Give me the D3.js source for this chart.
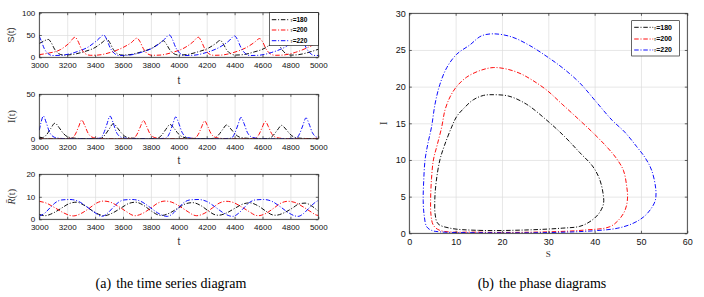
<!DOCTYPE html>
<html><head><meta charset="utf-8">
<script src="https://cdn.jsdelivr.net/npm/d3@7"></script>
<style>body{margin:0;background:#fff}svg{display:block}</style>
</head><body>
<svg id="c" width="704" height="297"></svg>
<script>
// ---------------- DATA ----------------
const TAUS = ["180", "200", "220"];
const T_TICKS = [3000, 3200, 3400, 3600, 3800, 4000, 4200, 4400, 4600, 4800, 5000];
const S_TICKS = [0, 50, 100];
const I_TICKS = [0, 50];
const R_TICKS = [0, 10, 20];
const PS_TICKS = [0, 10, 20, 30, 40, 50, 60];
const PI_TICKS = [0, 5, 10, 15, 20, 25, 30];

// S(t)  [t, value]
const S180 = [[3000,31],[3030,36],[3065,40],[3085,33],[3110,18],[3140,8],[3175,5],[3230,6],[3315,12],[3400,22],[3450,33],[3485,41],[3505,33],[3530,18],[3560,8],[3595,5],[3650,6],[3730,12],[3810,21],[3860,31],[3890,37],[3910,30],[3935,17],[3965,8],[4000,5],[4055,6],[4135,12],[4215,21],[4265,31],[4297,38],[4317,31],[4342,17],[4372,8],[4407,5],[4462,6],[4540,12],[4620,21],[4665,31],[4695,37],[4715,30],[4740,17],[4770,8],[4805,5],[4860,6],[4940,12],[5000,18]];
const S200 = [[3000,6],[3060,9],[3150,17],[3215,32],[3256,45],[3276,37],[3300,20],[3330,8],[3365,4.5],[3420,5],[3510,11],[3600,22],[3660,33],[3700,43],[3720,36],[3745,20],[3775,8],[3810,4.5],[3865,5],[3955,11],[4045,22],[4100,34],[4140,45],[4160,37],[4185,20],[4215,8],[4250,4.5],[4305,5],[4395,11],[4485,22],[4540,33],[4580,42],[4600,35],[4625,19],[4655,8],[4690,4.5],[4745,5],[4835,11],[4925,22],[4980,31],[5000,35]];
const S220 = [[3000,47],[3015,36],[3035,20],[3060,9],[3095,4],[3155,4.5],[3255,11],[3350,23],[3415,38],[3462,50],[3482,41],[3507,22],[3537,9],[3572,4],[3632,4.5],[3730,11],[3825,23],[3890,38],[3933,50],[3953,41],[3978,22],[4008,9],[4043,4],[4103,4.5],[4200,11],[4295,23],[4360,37],[4400,48],[4420,40],[4445,22],[4475,9],[4510,4],[4570,4.5],[4667,11],[4762,23],[4827,37],[4867,48],[4887,40],[4912,22],[4942,9],[4977,4],[5000,4]];

// I(t)
const I180 = [[3000,1.5],[3022,1.2],[3052,4.5],[3082,11.5],[3112,17.5],[3142,12.5],[3172,6],[3202,2.2],[3242,0.8],[3300,0.2],[3400,0.1],[3441,0.4],[3471,4.3],[3501,11],[3531,17],[3561,12],[3591,6],[3621,2],[3661,0.7],[3720,0.2],[3800,0.1],[3847,0.4],[3877,4],[3907,10.5],[3937,16],[3967,11.5],[3997,5.5],[4027,2],[4067,0.7],[4130,0.2],[4210,0.1],[4253,0.4],[4283,3.9],[4313,10],[4343,15.5],[4373,11],[4403,5.4],[4433,1.9],[4473,0.7],[4530,0.2],[4600,0.1],[4647,0.4],[4677,3.8],[4707,9.8],[4737,15],[4767,10.8],[4797,5.2],[4827,1.8],[4867,0.6],[4930,0.2],[5000,0.1]];
const I200 = [[3000,0.3],[3100,0.1],[3200,0.2],[3234,0.6],[3259,5.2],[3282,13.5],[3304,21],[3326,14.8],[3349,6.4],[3374,2.1],[3404,0.7],[3454,0.15],[3600,0.1],[3676,0.6],[3701,5.1],[3724,13.3],[3746,20.5],[3768,14.4],[3791,6.2],[3816,2],[3846,0.7],[3896,0.15],[4040,0.1],[4115,0.6],[4140,5],[4163,13],[4185,20],[4207,14],[4230,6],[4255,2],[4285,0.7],[4335,0.15],[4480,0.1],[4550,0.6],[4575,4.9],[4598,12.7],[4620,19.5],[4642,13.7],[4665,5.9],[4690,1.9],[4720,0.7],[4770,0.15],[4920,0.1],[5000,0.5]];
const I220 = [[3000,9.5],[3012,18],[3029,25.5],[3050,18],[3073,7.5],[3098,2.5],[3128,0.8],[3180,0.15],[3300,0.05],[3380,0.1],[3437,0.6],[3462,6.3],[3485,16.5],[3507,25.5],[3529,18],[3552,7.5],[3577,2.5],[3607,0.8],[3660,0.15],[3800,0.05],[3850,0.1],[3908,0.6],[3933,6],[3956,16],[3978,24.5],[4000,17.3],[4023,7.3],[4048,2.4],[4078,0.8],[4130,0.15],[4270,0.05],[4320,0.1],[4376,0.6],[4401,6],[4424,15.6],[4446,24],[4468,17],[4491,7.2],[4516,2.4],[4546,0.8],[4600,0.15],[4740,0.05],[4790,0.1],[4842,0.6],[4867,5.9],[4890,15.3],[4912,23.5],[4934,16.6],[4957,7],[4982,2.3],[5000,1.2]];

// R-bar(t)
const R180 = [[3000,2.2],[3040,1.6],[3100,2.8],[3160,5],[3215,7],[3265,7.6],[3320,6.3],[3385,3.6],[3440,1.9],[3465,1.6],[3525,2.8],[3585,5],[3640,7],[3690,7.6],[3745,6.3],[3805,3.6],[3850,2],[3875,1.7],[3935,2.8],[3995,5],[4050,6.9],[4100,7.4],[4155,6.2],[4215,3.6],[4260,2],[4285,1.8],[4345,2.9],[4405,5],[4460,6.8],[4510,7.3],[4565,6.1],[4625,3.6],[4670,2],[4695,1.8],[4755,2.9],[4815,5],[4860,6.8],[4905,7.2],[4960,5.6],[5000,3.6]];
const R200 = [[3000,8],[3050,7.2],[3110,5.2],[3170,3],[3220,1.7],[3244,1.5],[3300,2.6],[3360,5],[3410,7.2],[3460,8.1],[3510,7.6],[3570,5.6],[3630,3.2],[3665,1.9],[3686,1.6],[3740,2.6],[3800,5],[3850,7.2],[3900,8.1],[3950,7.6],[4010,5.6],[4070,3.2],[4105,1.9],[4128,1.6],[4182,2.6],[4240,5],[4290,7.2],[4340,8],[4390,7.5],[4450,5.5],[4510,3.2],[4545,1.9],[4570,1.6],[4624,2.6],[4682,5],[4732,7.2],[4782,8],[4832,7.5],[4892,5.5],[4950,3.2],[4985,1.9],[5000,1.7]];
const R220 = [[3000,1.4],[3040,2.8],[3080,5.3],[3120,7.6],[3160,8.6],[3220,8.8],[3280,8],[3340,5.6],[3400,2.9],[3447,1.3],[3487,2.6],[3527,5.1],[3567,7.5],[3607,8.6],[3667,8.8],[3727,8],[3787,5.6],[3847,2.9],[3895,1.5],[3918,1.3],[3958,2.6],[3998,5.1],[4038,7.5],[4078,8.6],[4138,8.8],[4198,8],[4258,5.6],[4318,2.9],[4365,1.5],[4387,1.3],[4427,2.6],[4467,5.1],[4507,7.5],[4547,8.6],[4607,8.8],[4667,8],[4727,5.6],[4787,2.9],[4833,1.5],[4855,1.3],[4895,2.6],[4935,5.1],[4975,7.4],[5000,8.4]];

// Phase diagrams [S, I] (closed loops)
const PH180 = [[8.8,0.7],[15,0.4],[25,0.45],[33,0.7],[36.8,0.95],[39,1.6],[40.8,2.6],[41.9,4.0],[41.8,5.5],[41.0,7.5],[39.5,9.2],[36.8,11],[33.5,13.2],[29.7,15.4],[25.3,17.6],[21.5,18.7],[18.1,18.9],[16,18.8],[13.8,18.2],[11.7,17],[10.2,15.9],[9.15,14.5],[7.6,12],[6.6,10],[5.8,7],[5.5,4.5],[5.6,2.5],[6.2,1.3]];
const PH200 = [[6.6,0.4],[15,0.15],[30,0.2],[38,0.45],[43.3,0.9],[45.3,1.9],[46.6,3.2],[47.1,4.8],[46.9,6.5],[46.2,8.6],[44.6,10.3],[42.6,11.8],[39.5,13.8],[36.8,15.4],[33,17.6],[29.7,19.5],[26.5,20.9],[23.9,21.8],[21,22.4],[18.1,22.6],[15.3,22.2],[12.4,21.3],[10.2,20],[8.8,18.6],[7.7,16.8],[7.0,14.5],[6,12],[5.2,10],[4.8,7.5],[4.6,4.5],[4.7,2.4],[5.2,1.1]];
const PH220 = [[6.6,0.2],[15,0.08],[30,0.1],[40,0.35],[45,0.7],[48.3,1.36],[50.5,2.2],[52,3.2],[53.1,4.5],[53.2,6],[52.3,8.6],[50.9,10.3],[49.1,11.8],[46.5,13.8],[43.8,15.4],[40.5,17.8],[36.8,20.5],[33.2,22.5],[29.7,24.1],[26,25.6],[22,26.8],[18.1,27.2],[15.5,26.9],[13.1,25.7],[10.2,24.4],[8.1,22.6],[6.6,20.3],[5.55,17.6],[4.8,14.5],[4.0,12.2],[3.4,10],[3.1,7],[3.0,4.5],[3.2,2.5],[3.75,0.9],[4.8,0.4]];

// ---------------- STYLE ----------------
const SANS = "'Liberation Sans', Arial, Helvetica, sans-serif";
const SERIF = "'Liberation Serif', 'Times New Roman', serif";
const COLORS = ["#000000", "#ff0000", "#0000ff"];
const DASH = "4.5,1.8,1,1.8";
const svg = d3.select("#c");
let clipN = 0;

function makePanel(o) {
  const x = d3.scaleLinear().domain(o.xd).range([o.l, o.r]);
  const y = d3.scaleLinear().domain(o.yd).range([o.b, o.t]);
  const w = o.r - o.l, h = o.b - o.t;
  const g = svg.append("g");
  g.append("rect").attr("x", o.l).attr("y", o.t).attr("width", w).attr("height", h).attr("fill", "#fff");
  const gridStyle = s => { s.select(".domain").remove(); s.selectAll("line").attr("stroke", "#dddddd").attr("stroke-width", 0.7); };
  g.append("g").attr("transform", `translate(0,${o.b})`)
    .call(d3.axisBottom(x).tickValues(o.xt).tickSize(-h).tickFormat("")).call(gridStyle);
  g.append("g").attr("transform", `translate(${o.l},0)`)
    .call(d3.axisLeft(y).tickValues(o.yt).tickSize(-w).tickFormat("")).call(gridStyle);
  const id = "clip" + (clipN++);
  svg.append("clipPath").attr("id", id).append("rect")
    .attr("x", o.l).attr("y", o.t).attr("width", w).attr("height", h);
  const plot = g.append("g").attr("clip-path", `url(#${id})`);
  return { x, y, g, plot, o };
}

function finishPanel(p) {
  const { x, y, g, o } = p;
  const tk = 2.5;
  const style = s => {
    s.select(".domain").remove();
    s.selectAll("line").attr("stroke", "#262626").attr("stroke-width", 0.7);
    s.selectAll("text").attr("font-family", SANS).attr("font-size", o.fs).attr("fill", "#111");
  };
  g.append("g").attr("transform", `translate(0,${o.b})`)
    .call(d3.axisBottom(x).tickValues(o.xt).tickSizeInner(-tk).tickSizeOuter(0).tickPadding(o.xpad).tickFormat(d3.format("d"))).call(style);
  g.append("g").attr("transform", `translate(0,${o.t})`)
    .call(d3.axisTop(x).tickValues(o.xt).tickSizeInner(-tk).tickSizeOuter(0).tickFormat("")).call(style);
  g.append("g").attr("transform", `translate(${o.l},0)`)
    .call(d3.axisLeft(y).tickValues(o.yt).tickSizeInner(-tk).tickSizeOuter(0).tickPadding(o.ypad).tickFormat(d3.format("d"))).call(style);
  g.append("g").attr("transform", `translate(${o.r},0)`)
    .call(d3.axisRight(y).tickValues(o.yt).tickSizeInner(-tk).tickSizeOuter(0).tickFormat("")).call(style);
  g.append("rect").attr("x", o.l).attr("y", o.t).attr("width", o.r - o.l).attr("height", o.b - o.t)
    .attr("fill", "none").attr("stroke", "#262626").attr("stroke-width", 0.8);
}

function drawLines(p, series, curve) {
  const line = d3.line().x(d => p.x(d[0])).y(d => p.y(d[1])).curve(curve);
  series.forEach((s, i) => {
    p.plot.append("path").datum(s).attr("d", line)
      .attr("fill", "none").attr("stroke", COLORS[i]).attr("stroke-width", 0.95)
      .attr("stroke-dasharray", DASH);
  });
}

function legend(x0, y0, w, h, rowYs, lineLen, fs) {
  const g = svg.append("g");
  g.append("rect").attr("x", x0).attr("y", y0).attr("width", w).attr("height", h)
    .attr("fill", "#fff").attr("stroke", "#000").attr("stroke-width", 0.6);
  TAUS.forEach((t, i) => {
    const yy = rowYs[i];
    g.append("line").attr("x1", x0 + 2.5).attr("x2", x0 + 2.5 + lineLen).attr("y1", yy).attr("y2", yy)
      .attr("stroke", COLORS[i]).attr("stroke-width", 0.95).attr("stroke-dasharray", DASH);
    const tx = g.append("text").attr("x", x0 + 3 + lineLen).attr("y", yy).attr("dy", "0.35em")
      .attr("font-family", SANS).attr("font-size", fs).attr("font-weight", "bold").attr("fill", "#000");
    tx.append("tspan").attr("font-family", SERIF).attr("font-style", "italic").attr("font-weight", "normal")
      .attr("fill", "#444").attr("font-size", fs).text("τ");
    tx.append("tspan").text("=" + t);
  });
}

function label(x, y, txt, opt = {}) {
  const t = svg.append("text").attr("x", x).attr("y", y).attr("text-anchor", "middle")
    .attr("dominant-baseline", "central")
    .attr("font-family", opt.family || SANS).attr("font-size", opt.fs || 10)
    .attr("fill", opt.fill || "#333").text(txt);
  if (opt.rot) t.attr("transform", `rotate(-90,${x},${y})`);
  if (opt.italic) t.attr("font-style", "italic");
  return t;
}

// ---------------- LEFT PANELS ----------------
const L = 39.3, R = 318.3;
const pS = makePanel({ l: L, r: R, t: 12.7, b: 57.3, xd: [3000, 5000], yd: [0, 100], xt: T_TICKS, yt: S_TICKS, fs: 8, xpad: 5.5, ypad: 4 });
drawLines(pS, [S180, S200, S220], d3.curveMonotoneX);
finishPanel(pS);
legend(269.3, 12.7, 49, 33, [19.7, 30, 40.7], 18, 6.5);

const pI = makePanel({ l: L, r: R, t: 94.3, b: 138.7, xd: [3000, 5000], yd: [0, 50], xt: T_TICKS, yt: I_TICKS, fs: 8, xpad: 5.5, ypad: 4 });
drawLines(pI, [I180, I200, I220], d3.curveMonotoneX);
finishPanel(pI);

const pR = makePanel({ l: L, r: R, t: 174.3, b: 219.3, xd: [3000, 5000], yd: [0, 20], xt: T_TICKS, yt: R_TICKS, fs: 8, xpad: 5.5, ypad: 4 });
drawLines(pR, [R180, R200, R220], d3.curveMonotoneX);
finishPanel(pR);

label(179, 80, "t", { fs: 10 });
label(179, 160, "t", { fs: 10 });
label(179, 241, "t", { fs: 10 });
label(10, 35, "S(t)", { rot: true, fs: 9.5 });
label(11.5, 116.5, "I(t)", { rot: true, fs: 10, family: SERIF });
const rl = label(11, 196.8, "", { rot: true, fs: 10, family: SERIF });
rl.append("tspan").attr("font-style", "italic").text("R\u0304");
rl.append("tspan").text("(t)");

// ---------------- RIGHT PANEL ----------------
const pP = makePanel({ l: 409.3, r: 687.3, t: 13.3, b: 233.3, xd: [0, 60], yd: [0, 30], xt: PS_TICKS, yt: PI_TICKS, fs: 9, xpad: 5.5, ypad: 3.6 });
drawLines(pP, [PH180, PH200, PH220], d3.curveCatmullRomClosed.alpha(0.5));
finishPanel(pP);
legend(631.7, 20.7, 47.6, 35.3, [27.3, 39, 50], 19, 7);
label(383.5, 123.3, "I", { rot: true, fs: 10, family: SERIF });
label(548.3, 254, "S", { fs: 9, family: SERIF });

// ---------------- CAPTIONS ----------------
function caption(cx, a, b) {
  const t = svg.append("text").attr("x", cx).attr("y", 288).attr("text-anchor", "middle")
    .attr("font-family", SERIF).attr("font-size", 14).attr("fill", "#000");
  t.append("tspan").text(a);
  t.append("tspan").attr("dx", 5).text(b);
}
caption(171, "(a)", "the time series diagram");
caption(542, "(b)", "the phase diagrams");
</script>
</body></html>
